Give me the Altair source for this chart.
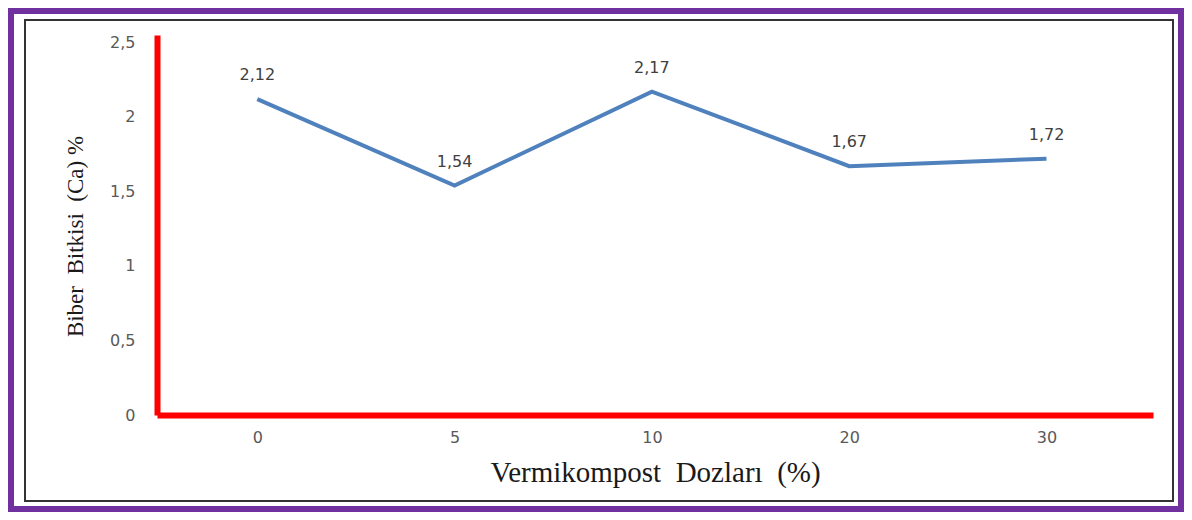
import altair as alt
import pandas as pd

doses = ["0", "5", "10", "20", "30"]
ca_values = [2.12, 1.54, 2.17, 1.67, 1.72]
y_ticks = [0, 0.5, 1, 1.5, 2, 2.5]

NB = "\u00a0"
x_title = f"Vermikompost{NB} Dozları{NB} (%)"
y_title = f"Biber{NB} Bitkisi{NB} (Ca) %"

df = pd.DataFrame({"doz": doses, "ca": ca_values})

W, H = 996, 380

x_enc = alt.X(
    "doz:N",
    sort=doses,
    scale=alt.Scale(type="point", padding=0.524, align=0.485),
    axis=alt.Axis(
        title=x_title,
        titleFont="Liberation Serif",
        titleFontSize=29,
        titleFontWeight="normal",
        titleColor="#1a1a1a",
        titleY=57,
        titleBaseline="middle",
        labelFont="DejaVu Sans",
        labelFontSize=16,
        labelColor="#595959",
        labelAngle=0,
        labelPadding=14,
        ticks=False,
        domainColor="#ff0000",
        domainWidth=6,
        grid=False,
    ),
)

y_enc = alt.Y(
    "ca:Q",
    scale=alt.Scale(domain=[0, 2.55], nice=False, zero=True),
    axis=alt.Axis(
        title=y_title,
        titleFont="Liberation Serif",
        titleFontSize=23,
        titleFontWeight="normal",
        titleColor="#1a1a1a",
        titleAngle=-90,
        titleX=-82,
        titleY=201,
        titleAlign="center",
        titleBaseline="middle",
        values=y_ticks,
        labelExpr="replace(toString(datum.value), '.', ',')",
        labelFont="DejaVu Sans",
        labelFontSize=16,
        labelColor="#595959",
        labelPadding=22,
        ticks=False,
        domainColor="#ff0000",
        domainWidth=6,
        grid=False,
    ),
)

line = alt.Chart(df).mark_line(color="#4f81bd", strokeWidth=4).encode(x=x_enc, y=y_enc)

labels = (
    alt.Chart(df)
    .transform_calculate(lbl="replace(format(datum.ca, '.2f'), '.', ',')")
    .mark_text(font="DejaVu Sans", fontSize=16, color="#404040", dy=-24)
    .encode(x=alt.X("doz:N", sort=doses), y=alt.Y("ca:Q"), text="lbl:N")
)

frame_data = alt.Data(values=[{"k": 1}])
purple = alt.Chart(frame_data).mark_rect(
    filled=False, stroke="#7030a0", strokeWidth=6
).encode(x=alt.value(-146), x2=alt.value(1024), y=alt.value(-24), y2=alt.value(474))
black = alt.Chart(frame_data).mark_rect(
    filled=False, stroke="#333333", strokeWidth=2
).encode(x=alt.value(-132), x2=alt.value(1016), y=alt.value(-15), y2=alt.value(466))

chart = (
    alt.layer(purple, black, line, labels)
    .properties(
        width=W,
        height=H,
        autosize=alt.AutoSizeParams(type="none"),
        padding={"left": 149, "top": 27, "right": 31, "bottom": 97},
        background="white",
    )
    .configure_view(stroke=None)
)

chart.save("out.html", embed_options={"renderer": "svg", "actions": False})
